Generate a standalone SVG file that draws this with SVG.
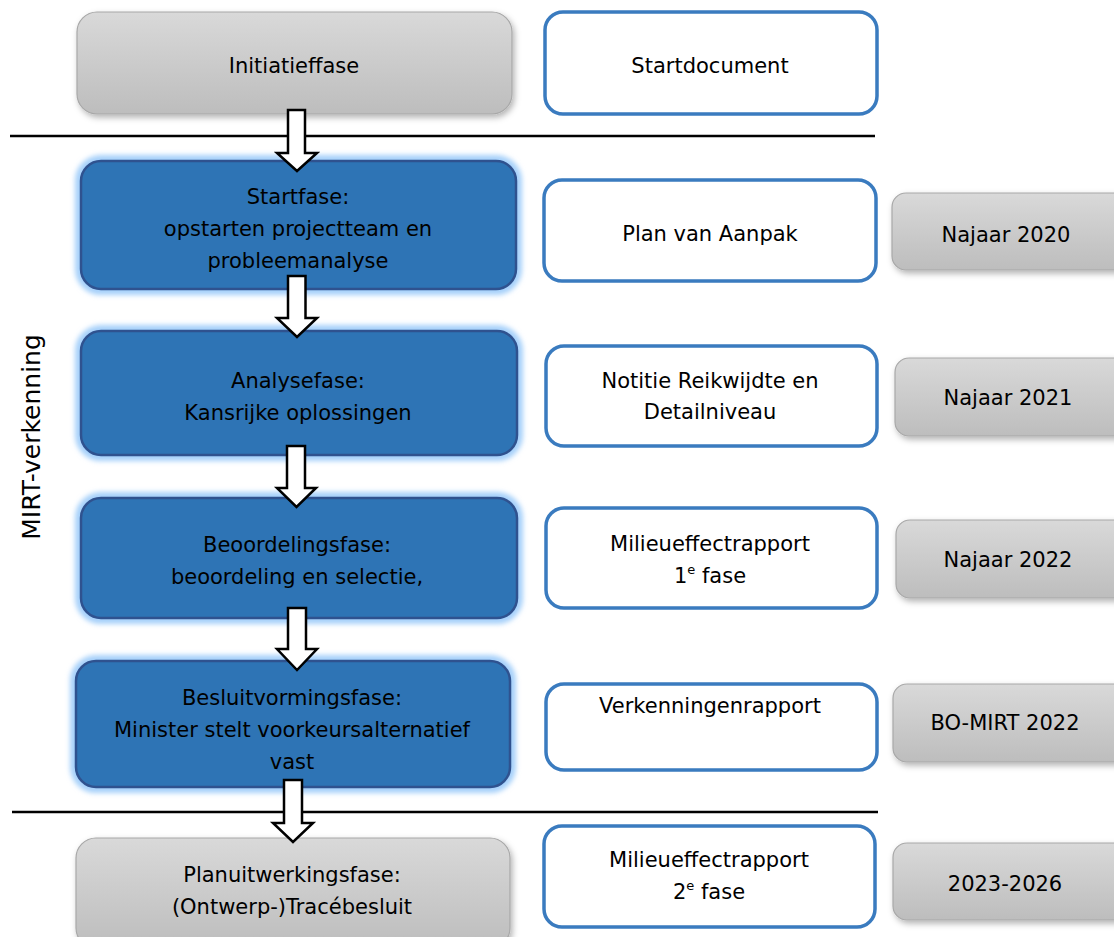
<svg xmlns="http://www.w3.org/2000/svg" width="1114" height="937" viewBox="0 0 1114 937">
<defs>
<linearGradient id="gGray" x1="0" y1="0" x2="0" y2="1">
<stop offset="0" stop-color="#d9d9d9"/>
<stop offset="1" stop-color="#bdbdbd"/>
</linearGradient>
<filter id="shadow" x="-10%" y="-20%" width="130%" height="150%">
<feDropShadow dx="2" dy="3" stdDeviation="3" flood-color="#000" flood-opacity="0.3"/>
</filter>
<filter id="glow" x="-10%" y="-20%" width="120%" height="140%">
<feGaussianBlur stdDeviation="2.5"/>
</filter>
<style>
text{font-family:"DejaVu Sans","Verdana",sans-serif;font-size:21px;fill:#000;text-anchor:middle}
.gray{fill:url(#gGray);stroke:#a8a8a8;stroke-width:1.2;filter:url(#shadow)}
.blue{fill:#2e74b5;stroke:#2f528f;stroke-width:2.5}
.halo{fill:none;stroke:#a6d0fa;stroke-width:12;filter:url(#glow)}
.doc{fill:#fff;stroke:#3a7bbf;stroke-width:3.5}
.sep{stroke:#000;stroke-width:2.5}
.arrow{fill:#fff;stroke:#000;stroke-width:2.5;stroke-linejoin:miter}
.sup{font-size:13px}
</style>
</defs>
<rect width="1114" height="937" fill="#fff"/>

<g id="label-mirt">
<text transform="translate(40,437) rotate(-90)" style="font-size:25px">MIRT-verkenning</text>
</g>

<g id="separators">
<line class="sep" x1="10" y1="136" x2="875" y2="136"/>
<line class="sep" x1="12" y1="812" x2="878" y2="812"/>
</g>

<g id="initiatieffase">
<rect class="gray" x="77" y="12" width="435" height="102" rx="20"/>
<text x="294" y="73">Initiatieffase</text>
</g>
<g id="startdocument">
<rect class="doc" x="545" y="12" width="332" height="102" rx="18"/>
<text x="710" y="73">Startdocument</text>
</g>

<g id="startfase">
<rect class="halo" x="81" y="161" width="435" height="128" rx="20"/>
<rect class="blue" x="81" y="161" width="435" height="128" rx="20"/>
<text x="298" y="204">Startfase:</text>
<text x="298" y="236">opstarten projectteam en</text>
<text x="298" y="268">probleemanalyse</text>
</g>
<g id="plan-van-aanpak">
<rect class="doc" x="544" y="180" width="332" height="101" rx="18"/>
<text x="710" y="241">Plan van Aanpak</text>
</g>
<g id="najaar-2020">
<rect class="gray" x="892" y="193" width="240" height="77" rx="14"/>
<text x="1006" y="242">Najaar 2020</text>
</g>

<g id="analysefase">
<rect class="halo" x="81" y="331" width="436" height="124" rx="20"/>
<rect class="blue" x="81" y="331" width="436" height="124" rx="20"/>
<text x="298" y="388">Analysefase:</text>
<text x="298" y="420">Kansrijke oplossingen</text>
</g>
<g id="notitie">
<rect class="doc" x="546" y="346" width="331" height="100" rx="18"/>
<text x="710" y="388">Notitie Reikwijdte en</text>
<text x="710" y="419">Detailniveau</text>
</g>
<g id="najaar-2021">
<rect class="gray" x="895" y="358" width="240" height="78" rx="14"/>
<text x="1008" y="405">Najaar 2021</text>
</g>

<g id="beoordelingsfase">
<rect class="halo" x="81" y="498" width="436" height="120" rx="20"/>
<rect class="blue" x="81" y="498" width="436" height="120" rx="20"/>
<text x="297" y="552">Beoordelingsfase:</text>
<text x="297" y="584">beoordeling en selectie,</text>
</g>
<g id="mer-1">
<rect class="doc" x="546" y="508" width="331" height="100" rx="18"/>
<text x="710" y="551">Milieueffectrapport</text>
<text x="710" y="583">1<tspan class="sup" dy="-9">e</tspan><tspan dy="9"> fase</tspan></text>
</g>
<g id="najaar-2022">
<rect class="gray" x="896" y="520" width="240" height="78" rx="14"/>
<text x="1008" y="567">Najaar 2022</text>
</g>

<g id="besluitvormingsfase">
<rect class="halo" x="76" y="661" width="434" height="126" rx="20"/>
<rect class="blue" x="76" y="661" width="434" height="126" rx="20"/>
<text x="292" y="705">Besluitvormingsfase:</text>
<text x="292" y="737">Minister stelt voorkeursalternatief</text>
<text x="292" y="769">vast</text>
</g>
<g id="verkenningenrapport">
<rect class="doc" x="546" y="684" width="331" height="86" rx="18"/>
<text x="710" y="713">Verkenningenrapport</text>
</g>
<g id="bo-mirt-2022">
<rect class="gray" x="893" y="684" width="240" height="78" rx="14"/>
<text x="1005" y="730">BO-MIRT 2022</text>
</g>

<g id="planuitwerkingsfase">
<rect class="gray" x="76" y="838" width="434" height="110" rx="20"/>
<text x="292" y="882">Planuitwerkingsfase:</text>
<text x="292" y="914">(Ontwerp-)Tracébesluit</text>
</g>
<g id="mer-2">
<rect class="doc" x="544" y="826" width="331" height="101" rx="18"/>
<text x="709" y="867">Milieueffectrapport</text>
<text x="709" y="899">2<tspan class="sup" dy="-9">e</tspan><tspan dy="9"> fase</tspan></text>
</g>
<g id="jaren-2023-2026">
<rect class="gray" x="893" y="843" width="240" height="77" rx="14"/>
<text x="1005" y="891">2023-2026</text>
</g>

<g id="connectors">
<path class="arrow" d="M288,110 H305 V153 H317 L297,171 L277,153 H288 Z"/>
<path class="arrow" d="M288,276 H305.5 V318 H317 L297,337 L277,318 H288 Z"/>
<path class="arrow" d="M287,446 H305 V488 H316 L296.5,507 L277,488 H287 Z"/>
<path class="arrow" d="M288,608 H306 V649 H317 L297,670 L277,649 H288 Z"/>
<path class="arrow" d="M284,780 H302 V823 H313 L293,842 L273,823 H284 Z"/>
</g>
</svg>
